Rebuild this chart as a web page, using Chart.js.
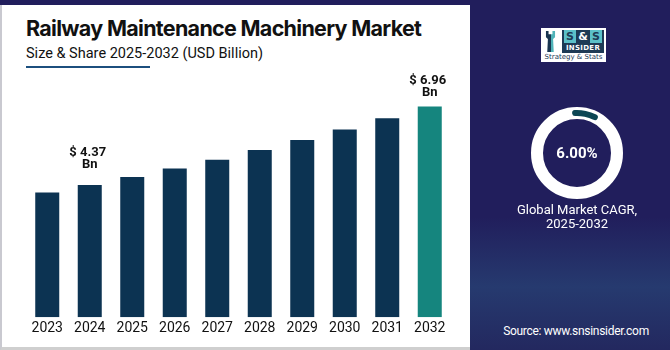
<!DOCTYPE html>
<html>
<head>
<meta charset="utf-8">
<script src="https://cdn.jsdelivr.net/npm/chart.js@4.4.1/dist/chart.umd.min.js"></script>
<style>
	html, body { margin: 0; padding: 0; }
	body {
		width: 670px; height: 350px; position: relative; overflow: hidden;
		background: #211e5c; font-family: Roboto, "Noto Sans", sans-serif;
	}
	.card {
		position: absolute; left: 0; top: 5px; width: 470px; height: 345px;
		box-sizing: border-box; background: #fff;
		border-left: 2px solid #c9c9d0; border-bottom: 3px solid #cfcfcf;
	}
	.side {
		position: absolute; left: 470px; top: 0; width: 200px; height: 350px;
		background: linear-gradient(180deg, #211e5c 0%, #211e5c 62%, #263a6f 82%, #23285f 100%);
	}
	.title {
		position: absolute; left: 26px; top: 15px; margin: 0;
		font: 700 21.5px Inter, Roboto, sans-serif; letter-spacing: -0.7px; color: #111;
		white-space: nowrap;
	}
	.subtitle {
		position: absolute; left: 26px; top: 45px;
		font: 400 14.5px Roboto, sans-serif; color: #111; white-space: nowrap;
	}
	.underline {
		position: absolute; left: 26px; top: 66px; width: 124px; height: 2px; background: #1c4f7e;
	}
	#barWrap { position: absolute; left: 0; top: 70px; width: 470px; height: 280px; }
	#ringWrap { position: absolute; left: 531px; top: 107px; width: 92px; height: 92px; }
	.ring-bg {
		position: absolute; left: 531px; top: 107px; width: 92px; height: 92px;
		box-sizing: border-box; border: 12px solid #fff; border-radius: 50%;
	}
	.cagr {
		position: absolute; left: 531px; top: 107px; width: 92px; height: 92px;
		display: flex; align-items: center; justify-content: center;
		font: 700 15px Roboto, sans-serif; color: #fff;
	}
	.cagr-label {
		position: absolute; left: 477px; top: 203px; width: 200px; text-align: center;
		font: 400 13px/14px Roboto, sans-serif; color: #fff;
	}
	.source {
		position: absolute; left: 477px; top: 324px; width: 198px; text-align: center;
		font: 400 12px Roboto, sans-serif; letter-spacing: -0.3px; color: #fff;
	}
	.logo {
		position: absolute; left: 541px; top: 28px; width: 65px; height: 34px; background: #fff;
	}
	.logo .rook {
		position: absolute; left: 3px; top: 3px; width: 13px; height: 21px;
		background: linear-gradient(90deg, #1a3550 0%, #1a3550 55%, #4fb3b8 55%);
		clip-path: polygon(15% 0, 35% 0, 35% 15%, 65% 15%, 65% 0, 85% 0, 85% 30%, 70% 38%, 75% 100%, 25% 100%, 30% 38%, 15% 30%);
	}
	.logo .box {
		position: absolute; left: 21px; top: 2px; width: 42px; height: 23px; background: #1d3a55;
	}
	.logo .ss {
		position: absolute; left: 0; top: 0; width: 42px; height: 13px;
		font: 700 11px/13px "DejaVu Sans", sans-serif; color: #1d3a55; text-align: center;
		display: flex; justify-content: center; gap: 2px;
	}
	.logo .ss span { background: #5bc0c8; width: 12px; display: inline-block; }
	.logo .ss span.amp { background: transparent; color: #fff; width: 10px; }
	.logo .ins {
		position: absolute; left: 0; top: 14px; width: 42px; text-align: center;
		font: 700 7px/8px "DejaVu Sans", sans-serif; color: #fff; letter-spacing: 0.3px;
	}
	.logo .tag {
		position: absolute; left: 0; top: 26px; width: 65px; text-align: center;
		font: 400 7px/7px "DejaVu Sans", sans-serif; color: #1d3a55;
	}
</style>
</head>
<body>
<div class="card"></div>
<div class="side"></div>
<h1 class="title">Railway Maintenance Machinery Market</h1>
<div class="subtitle">Size &amp; Share 2025-2032 (USD Billion)</div>
<div class="underline"></div>
<div id="barWrap"><canvas id="bars"></canvas></div>

<div class="logo">
	<div class="rook"></div>
	<div class="box">
		<div class="ss"><span>S</span><span class="amp">&amp;</span><span>S</span></div>
		<div class="ins">INSIDER</div>
	</div>
	<div class="tag">Strategy &amp; Stats</div>
</div>

<div class="ring-bg"></div>
<div id="ringWrap"><canvas id="ring"></canvas></div>
<div class="cagr">6.00%</div>
<div class="cagr-label">Global Market CAGR,<br>2025-2032</div>
<div class="source">Source: www.snsinsider.com</div>

<script>
"use strict";

const years = ["2023", "2024", "2025", "2026", "2027", "2028", "2029", "2030", "2031", "2032"];
const marketSize = [4.12, 4.37, 4.63, 4.91, 5.2, 5.52, 5.85, 6.2, 6.57, 6.96];
const valueLabels = ["", "$ 4.37|Bn", "", "", "", "", "", "", "", "$ 6.96|Bn"];
const cagrArc = [10.5, 89.5];

const barColors = years.map((y, i) => (i === years.length - 1 ? "#15857e" : "#0c3352"));
const labelLift = { 1: 20, 9: 14 };

const valueLabelPlugin = {
	id: "valueLabels",
	afterDatasetsDraw(chart) {
		const ctx = chart.ctx;
		const meta = chart.getDatasetMeta(0);
		ctx.save();
		ctx.fillStyle = "#111";
		ctx.font = "700 13px Roboto";
		ctx.textAlign = "center";
		ctx.textBaseline = "middle";
		valueLabels.forEach((txt, i) => {
			if (!txt) return;
			const bar = meta.data[i];
			const lines = txt.split("|");
			const lift = labelLift[i] || 16;
			ctx.fillText(lines[0], bar.x - 2, bar.y - lift - 12);
			ctx.fillText(lines[1], bar.x, bar.y - lift);
		});
		ctx.restore();
	},
};

new Chart(document.getElementById("bars"), {
	type: "bar",
	data: {
		labels: years,
		datasets: [
			{
				data: marketSize,
				backgroundColor: barColors,
				borderWidth: 0,
				barPercentage: 0.565,
				categoryPercentage: 1,
			},
		],
	},
	options: {
		responsive: true,
		maintainAspectRatio: false,
		animation: false,
		layout: { padding: { left: 26, right: 19, top: 5, bottom: 10 } },
		plugins: { legend: { display: false }, tooltip: { enabled: false } },
		scales: {
			x: {
				grid: { display: false, drawTicks: false },
				border: { display: false },
				ticks: { color: "#111", font: { family: "Roboto", size: 14 }, padding: 3 },
			},
			y: { display: false, min: 0, max: 8 },
		},
	},
	plugins: [valueLabelPlugin],
});

new Chart(document.getElementById("ring"), {
	type: "doughnut",
	data: {
		datasets: [
			{ data: [1], backgroundColor: ["rgba(0,0,0,0)"], borderWidth: 0, weight: 3 },
			{
				data: cagrArc,
				backgroundColor: ["#0c4654", "rgba(0,0,0,0)"],
				borderWidth: 0,
				borderRadius: 3,
				weight: 6,
			},
			{ data: [1], backgroundColor: ["rgba(0,0,0,0)"], borderWidth: 0, weight: 3 },
		],
	},
	options: {
		responsive: true,
		maintainAspectRatio: false,
		animation: false,
		cutout: "74%",
		rotation: -7,
		plugins: { legend: { display: false }, tooltip: { enabled: false } },
	},
});
</script>
</body>
</html>
